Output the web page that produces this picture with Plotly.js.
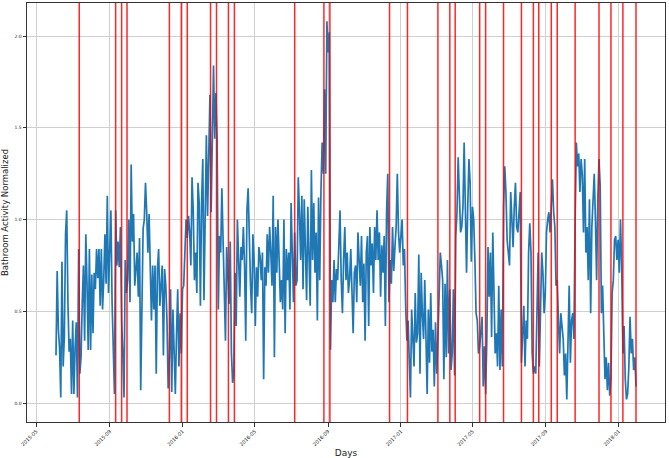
<!DOCTYPE html>
<html>
<head>
<meta charset="utf-8">
<script src="https://cdn.plot.ly/plotly-3.0.1.min.js"></script>
<style>
  html, body { margin: 0; padding: 0; background: #fff; }
  #root { width: 669px; height: 458px; }
</style>
</head>
<body>
<div id="root"></div>
<script>
// first day of the series, one reading every 2 days
const startDay = '2015-06-03';
const stepDays = 2;

// bathroom activity (normalized)
const activity = [
  0.26,0.72,0.40,0.30,0.03,0.77,0.20,0.36,0.92,1.05,
  0.55,0.28,0.35,0.05,0.45,0.05,0.30,0.44,0.03,0.84,
  0.16,0.25,0.55,0.75,0.34,0.92,0.65,0.29,0.84,0.29,
  0.70,0.38,0.71,0.62,0.84,0.68,0.84,0.53,0.84,0.51,
  0.67,0.92,0.65,1.13,0.60,0.80,1.05,0.55,0.34,0.05,
  1.05,0.75,0.88,0.74,0.96,0.45,0.27,0.03,0.78,0.60,
  0.67,1.00,0.55,1.30,0.88,1.03,0.64,0.71,0.82,0.58,
  0.90,0.07,0.64,0.95,1.00,1.20,1.04,0.82,1.03,0.71,
  0.45,0.75,0.51,0.75,0.16,0.73,0.84,0.53,0.67,0.75,
  0.26,0.73,0.64,0.45,0.08,0.25,0.62,0.06,0.51,0.22,
  0.05,0.38,0.62,0.20,0.49,0.27,0.62,0.64,0.84,1.00,
  0.90,1.02,0.93,0.75,1.23,1.05,0.67,0.82,0.60,1.20,
  1.09,0.53,1.09,1.33,0.56,1.00,1.46,1.02,1.31,1.68,
  1.04,1.55,1.84,1.44,1.69,1.44,0.51,0.91,0.82,1.17,
  0.93,0.60,0.34,0.85,0.71,0.54,0.88,0.27,0.11,0.17,
  0.71,0.42,1.00,0.71,0.58,0.85,0.78,0.96,0.75,
  // 2016
  0.34,1.05,1.17,0.84,0.64,0.49,0.92,0.78,0.42,0.74,
  0.58,0.85,0.80,0.67,0.82,0.13,0.74,0.64,0.92,0.71,
  0.96,0.82,0.64,1.13,0.25,0.96,0.71,1.00,0.71,0.55,
  0.67,0.51,1.00,0.38,0.84,0.67,0.82,0.51,1.09,0.71,
  0.55,0.93,0.64,0.67,1.23,1.04,0.78,1.13,0.62,1.11,
  0.82,0.56,1.07,0.71,0.53,1.27,0.78,1.09,0.71,0.93,
  0.45,1.12,0.67,1.15,1.42,1.25,1.71,1.25,2.08,1.91,
  2.02,0.29,0.67,0.55,0.78,0.55,0.73,0.67,0.82,1.05,
  0.67,0.49,0.78,0.96,0.67,0.82,0.60,0.67,0.84,0.55,
  0.38,0.71,0.75,0.55,0.93,0.78,0.64,0.91,0.55,0.76,
  0.34,0.82,0.91,0.42,0.96,0.75,0.87,0.60,0.96,0.78,
  1.05,0.78,0.93,0.58,0.86,0.71,0.91,0.42,1.04,1.25,
  0.55,0.78,0.65,0.96,0.72,0.85,0.96,1.25,0.93,0.82,
  0.95,1.00,0.75,0.84,0.53,0.34,0.45,0.27,0.03,0.51,
  0.36,0.20,0.60,0.33,0.38,0.81,0.16,0.71,0.48,0.35,
  0.67,0.42,0.05,0.51,0.22,0.60,0.28,0.40,0.09,0.44,
  0.16,0.35,0.69,0.82,0.75,
  // 2017
  0.67,0.13,0.65,0.25,0.78,0.27,0.62,0.18,0.27,0.62,
  0.15,0.91,1.04,1.34,1.09,0.93,0.96,1.07,1.42,0.96,
  0.71,1.07,1.33,1.20,0.77,1.07,1.00,0.78,0.49,0.45,
  0.27,0.31,0.38,0.47,0.09,0.31,0.05,0.35,0.85,0.58,
  0.82,0.36,0.93,0.56,0.27,0.38,0.20,0.64,0.18,0.51,
  0.20,1.07,1.29,1.15,0.89,0.82,0.75,1.15,1.00,0.85,
  1.07,1.20,0.96,0.93,1.04,1.15,0.22,0.38,0.53,0.20,
  0.45,0.35,0.82,0.98,0.82,0.27,0.16,0.20,0.16,0.49,
  0.82,0.20,0.56,0.82,0.71,0.49,0.60,0.93,1.00,1.04,
  0.93,1.11,1.22,1.04,0.96,0.64,0.67,0.45,0.27,0.49,
  0.40,0.35,0.15,0.27,0.02,0.31,0.64,0.22,0.45,0.49,
  0.35,1.00,1.42,1.29,1.36,1.15,1.33,1.24,0.93,1.33,
  0.82,0.96,0.67,1.11,0.49,0.96,1.07,1.25,1.00,0.67,
  1.11,1.33,1.18,0.49,0.64,0.27,0.13,0.25,0.07,0.22,
  0.04,0.13,0.60,0.67,0.89,0.91,0.78,0.89,0.71,1.00,
  0.75,0.27,0.42,0.13,0.02,0.05,0.20,0.47,0.27,0.35,
  0.18,0.25,0.09
];

// days marked with a red line
const eventDates = [
  '2015-07-12','2015-09-11','2015-09-21','2015-09-30','2015-12-10','2015-12-30',
  '2016-01-09','2016-02-17','2016-02-27','2016-03-18','2016-03-28','2016-07-07',
  '2016-08-25','2016-09-04','2016-12-13','2017-01-12','2017-03-04','2017-03-24',
  '2017-04-02','2017-05-13','2017-05-23','2017-06-22','2017-07-22','2017-08-11',
  '2017-08-20','2017-09-10','2017-09-20','2017-10-20','2017-11-29','2017-12-19',
  '2018-01-08','2018-01-30'
];

const xTicks = ['2015-05-01','2015-09-01','2016-01-01','2016-05-01','2016-09-01',
                '2017-01-01','2017-05-01','2017-09-01','2018-01-01'];
const yTicks = [0, 0.5, 1.0, 1.5, 2.0];

// dates for each reading
const t0 = Date.parse(startDay + 'T00:00:00Z');
const days = activity.map((v, i) =>
  new Date(t0 + i * stepDays * 86400000).toISOString().slice(0, 10));

const trace = {
  x: days,
  y: activity,
  type: 'scatter',
  mode: 'lines',
  line: { color: '#1f77b4', width: 1.7 },
  hoverinfo: 'skip'
};

const redLines = eventDates.map(d => ({
  type: 'line', xref: 'x', yref: 'paper',
  x0: d, x1: d, y0: 0, y1: 1,
  line: { color: 'rgba(255,0,0,0.85)', width: 1.5 },
  layer: 'above'
}));

const font = 'DejaVu Sans, sans-serif';

const layout = {
  width: 669,
  height: 458,
  margin: { l: 27, r: 4, t: 3, b: 36 },
  paper_bgcolor: '#fff',
  plot_bgcolor: '#fff',
  showlegend: false,
  font: { family: font, color: '#222' },
  xaxis: {
    type: 'date',
    range: ['2015-04-15 10:00', '2018-03-19 14:00'],
    tickvals: xTicks,
    tickformat: '%Y-%m',
    tickangle: -45,
    tickfont: { size: 5 },
    ticks: 'outside', ticklen: 3.5, tickwidth: 0.8, tickcolor: '#000',
    showgrid: true, gridcolor: '#d0d0d0', gridwidth: 1,
    zeroline: false,
    showline: true, mirror: true, linecolor: '#333', linewidth: 1,
    title: { text: 'Days', font: { size: 9 }, standoff: 6 },
    automargin: false
  },
  yaxis: {
    range: [-0.103, 2.18],
    tickvals: yTicks,
    tickformat: '.1f',
    tickfont: { size: 4.5 },
    ticks: 'outside', ticklen: 3.5, tickwidth: 0.8, tickcolor: '#000',
    showgrid: true, gridcolor: '#d0d0d0', gridwidth: 1,
    zeroline: false,
    showline: true, mirror: true, linecolor: '#333', linewidth: 1,
    title: { text: 'Bathroom Activity Normalized', font: { size: 8.5 }, standoff: 4 },
    automargin: false
  },
  shapes: redLines
};

Plotly.newPlot('root', [trace], layout, { staticPlot: true, displayModeBar: false });
</script>
</body>
</html>
